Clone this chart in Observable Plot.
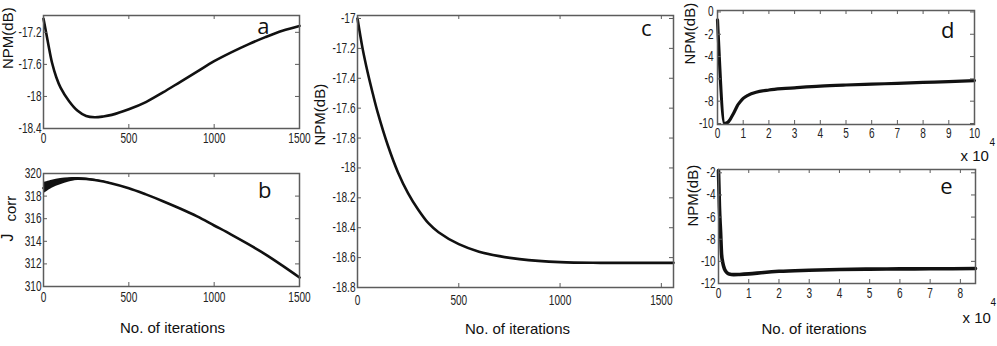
<!DOCTYPE html>
<html><head><meta charset="utf-8">
<script src="https://cdn.jsdelivr.net/npm/d3@7"></script>
<script src="https://cdn.jsdelivr.net/npm/@observablehq/plot@0.6"></script>
<style>
body{margin:0;background:#fff;}
#root{position:relative;width:997px;height:346px;overflow:hidden;background:#fff;}
#root svg{position:absolute;left:0;top:0;}
</style></head><body><div id="root"></div>
<script>
// ---- Panel a: NPM(dB) vs iterations ----
const aIter = [0,15,30,50,75,100,150,200,250,300,350,400,500,600,700,800,900,1000,1100,1200,1300,1400,1500];
const aNPM  = [-17.03,-17.2,-17.37,-17.58,-17.76,-17.89,-18.06,-18.18,-18.245,-18.26,-18.25,-18.23,-18.16,-18.07,-17.95,-17.82,-17.69,-17.56,-17.45,-17.35,-17.26,-17.18,-17.12];
const aXTicks = [0,500,1000,1500];
const aYTicks = [-17.2,-17.6,-18,-18.4];

// ---- Panel b: Jcorr vs iterations ----
const bIter = [0,50,100,150,200,250,300,400,500,600,700,800,900,1000,1100,1200,1300,1400,1500];
const bJ    = [318.7,319.1,319.35,319.5,319.55,319.52,319.42,319.12,318.7,318.15,317.55,316.9,316.2,315.4,314.6,313.75,312.85,311.85,310.8];
const bBandIter  = [0,50,100,150,200,300,400];
const bBandLow   = [318.2,318.7,319.0,319.25,319.4,319.35,319.05];
const bBandHigh  = [319.2,319.4,319.55,319.62,319.65,319.5,319.18];
const bXTicks = [0,500,1000,1500];
const bYTicks = [310,312,314,316,318,320];

// ---- Panel c ----
const cIter = [0,25,50,75,100,150,200,250,300,350,400,500,600,700,800,1000,1200,1560];
const cNPM  = [-17.0,-17.2,-17.36,-17.5,-17.63,-17.85,-18.03,-18.17,-18.28,-18.37,-18.43,-18.51,-18.56,-18.59,-18.61,-18.63,-18.635,-18.635];
const cXTicks = [0,500,1000,1500];
const cYTicks = [-17,-17.2,-17.4,-17.6,-17.8,-18,-18.2,-18.4,-18.6,-18.8];

// ---- Panel d ----
const dIter = [0,2800,4000,5000,6000,7000,8000,9000,10000,12000,15000,20000,25000,30000,40000,50000,60000,70000,80000,90000,100000];
const dNPM  = [-0.7,-10.0,-9.9,-9.6,-9.2,-8.75,-8.3,-8.0,-7.75,-7.45,-7.2,-7.0,-6.88,-6.8,-6.65,-6.55,-6.47,-6.4,-6.32,-6.25,-6.15];
const dXTicks = [0,10000,20000,30000,40000,50000,60000,70000,80000,90000,100000];
const dYTicks = [0,-2,-4,-6,-8,-10];

// ---- Panel e ----
const eIter = [0,300,700,1000,1400,2000,2700,3500,5000,7000,10000,15000,20000,30000,40000,50000,60000,70000,85000];
const eNPM  = [-1.8,-5.0,-7.4,-9.3,-10.1,-10.7,-11.0,-11.15,-11.2,-11.18,-11.13,-11.0,-10.9,-10.8,-10.73,-10.7,-10.68,-10.67,-10.65];
const eXTicks = [0,10000,20000,30000,40000,50000,60000,70000,80000];
const eYTicks = [-2,-4,-6,-8,-10,-12];

const W = 997, H = 346;
const root = document.getElementById("root");
const zip = (xs, ys) => xs.map((x, i) => ({x, y: ys[i]}));
const FRAME = "#5c5c5c", INK = "#111";
const TICK_FONT = "'Liberation Sans', Arial, sans-serif";
const LABEL_FONT = "'Liberation Sans', Arial, sans-serif";
const LETTER_FONT = "'Open Sans', 'DejaVu Sans', sans-serif";
const NARROW = 0.72; // horizontal squeeze of the condensed tick labels
const str = d => String(d);

function txt(s, o) { return Plot.text([s], {text: d => d, fill: INK, ...o}); }

function squeeze(svg) {
  d3.select(svg).selectAll('g[aria-label$="tick label"] text').each(function () {
    const t = this.getAttribute("transform") || "";
    this.setAttribute("transform", t + ` scale(${NARROW},1)`);
  });
}

function panel({frame: [L, T, R, B], xDomain, yDomain, xTicks, yTicks, xFmt = str, yFmt = str, xPad, yPad, marks, texts}) {
  const fw = R - L, fh = B - T;
  const p = Plot.plot({
    width: W, height: H,
    marginLeft: L, marginTop: T, marginRight: W - R, marginBottom: H - B,
    style: {background: "transparent", overflow: "visible", maxWidth: "none",
            fontFamily: TICK_FONT, fontSize: "14px", color: "#222"},
    x: {domain: xDomain}, y: {domain: yDomain},
    marks: [
      ...marks,
      Plot.frame({stroke: FRAME, strokeWidth: 1.5}),
      Plot.tickX(xTicks, {x: d => d, insetTop: fh - 4, stroke: FRAME}),
      Plot.tickX(xTicks, {x: d => d, insetBottom: fh - 4, stroke: FRAME}),
      Plot.tickY(yTicks, {y: d => d, insetRight: fw - 4, stroke: FRAME}),
      Plot.tickY(yTicks, {y: d => d, insetLeft: fw - 4, stroke: FRAME}),
      Plot.axisX({ticks: xTicks, tickSize: 0, tickPadding: xPad, tickFormat: xFmt, label: null, fontFamily: TICK_FONT, fontSize: 14, fill: "#222"}),
      Plot.axisY({ticks: yTicks, tickSize: 0, tickPadding: yPad, tickFormat: yFmt, label: null, fontFamily: TICK_FONT, fontSize: 14, fill: "#222"}),
      ...texts
    ]
  });
  squeeze(p);
  root.appendChild(p);
}

const yLab = (s, dx, dy) => txt(s, {frameAnchor: "left", dx, dy, rotate: -90, fontSize: 15, fontFamily: LABEL_FONT});
const xLab = (s, dx, dy) => txt(s, {frameAnchor: "bottom", dx, dy, fontSize: 15, fontFamily: LABEL_FONT});
const letter = (s, dx, dy) => txt(s, {frameAnchor: "top-right", dx, dy, fontSize: 22, lineAnchor: "bottom", fontFamily: LETTER_FONT});
const times10 = (dx, dy, dx4, dy4) => [
  txt("x 10", {frameAnchor: "bottom-right", dx, dy, textAnchor: "start", lineAnchor: "bottom", fontSize: 15, fontFamily: TICK_FONT}),
  txt("4", {frameAnchor: "bottom-right", dx: dx4, dy: dy4, textAnchor: "start", lineAnchor: "bottom", fontSize: 10, fontFamily: TICK_FONT})
];

// a
panel({
  frame: [43, 15, 299, 128], xDomain: [0, 1500], yDomain: [-18.4, -16.99],
  xTicks: aXTicks, yTicks: aYTicks, xPad: 5, yPad: 2,
  marks: [Plot.line(zip(aIter, aNPM), {x: "x", y: "y", stroke: INK, strokeWidth: 2.6, curve: "catmull-rom"})],
  texts: [yLab("NPM(dB)", -35, -3), letter("a", -30, 18)]
});

// b
panel({
  frame: [43, 173, 299, 286], xDomain: [0, 1500], yDomain: [310, 320],
  xTicks: bXTicks, yTicks: bYTicks, xPad: 6, yPad: 2,
  marks: [
    Plot.areaY(bBandIter.map((x, i) => ({x, lo: bBandLow[i], hi: bBandHigh[i]})), {x: "x", y1: "lo", y2: "hi", fill: INK, curve: "catmull-rom"}),
    Plot.line(zip(bIter, bJ), {x: "x", y: "y", stroke: INK, strokeWidth: 2.6, curve: "catmull-rom"})
  ],
  texts: [
    txt("J", {frameAnchor: "left", dx: -35.5, dy: 11.5, rotate: -90, fontSize: 16, fontFamily: LABEL_FONT}),
    txt("corr", {frameAnchor: "left", dx: -32, dy: -8.5, rotate: -90, fontSize: 15, fontFamily: LABEL_FONT}),
    xLab("No. of iterations", 1, 46),
    letter("b", -28, 24)
  ]
});

// c
panel({
  frame: [357, 15, 673, 287], xDomain: [0, 1560], yDomain: [-18.8, -16.98],
  xTicks: cXTicks, yTicks: cYTicks, xPad: 8, yPad: 2,
  marks: [Plot.line(zip(cIter, cNPM), {x: "x", y: "y", stroke: INK, strokeWidth: 2.6, curve: "catmull-rom"})],
  texts: [yLab("NPM(dB)", -37, -6), xLab("No. of iterations", 2, 46), letter("c", -22, 20)]
});

// d
panel({
  frame: [717, 10, 974, 124], xDomain: [0, 100000], yDomain: [-10.09, 0.13],
  xTicks: dXTicks, yTicks: dYTicks, xFmt: d => String(d / 1e4), xPad: 4, yPad: 4,
  marks: [Plot.line(zip(dIter, dNPM), {x: "x", y: "y", stroke: INK, strokeWidth: 3.2, curve: "monotone-x"})],
  texts: [yLab("NPM(dB)", -27, -3), letter("d", -20, 27), ...times10(-14, 36, 15, 21)]
});

// e
panel({
  frame: [718, 169, 975, 283], xDomain: [0, 85000], yDomain: [-12, -1.7],
  xTicks: eXTicks, yTicks: eYTicks, xFmt: d => String(d / 1e4), xPad: 5, yPad: 3,
  marks: [Plot.line(zip(eIter, eNPM), {x: "x", y: "y", stroke: INK, strokeWidth: 3.6, curve: "monotone-x"})],
  texts: [yLab("NPM(dB)", -25, 0), xLab("No. of iterations", -33, 50), letter("e", -23, 24), ...times10(-13, 39, 15, 22)]
});
</script></body></html>
